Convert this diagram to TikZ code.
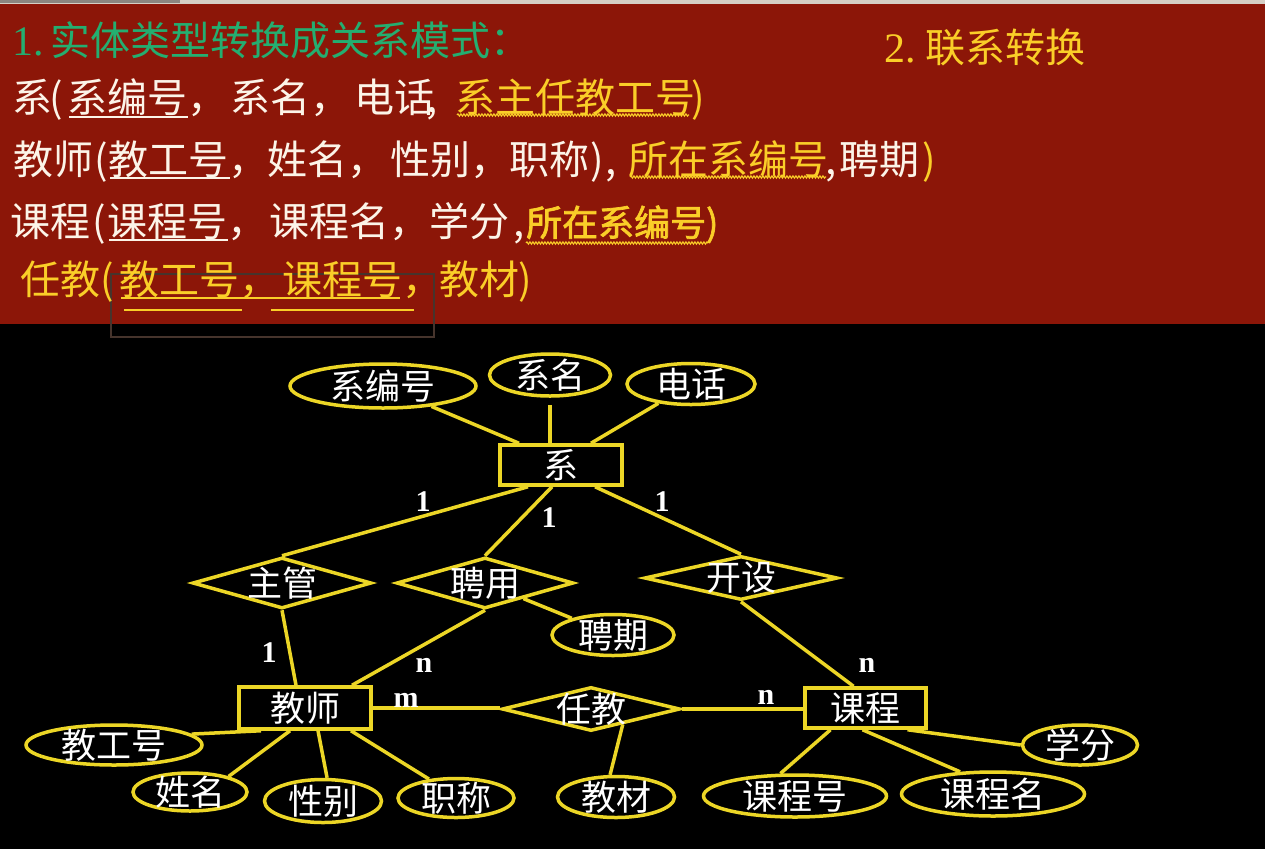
\documentclass[tikz,border=0pt]{standalone}
\usepackage{fontspec}
\setmainfont{Liberation Serif}
\newfontfamily\cjk{Noto Sans CJK SC}
\newfontfamily\cjkbold[FakeBold=2]{Noto Sans CJK SC}
\usetikzlibrary{shapes.geometric,decorations.pathmorphing,calc}

\definecolor{bandred}{RGB}{140,22,8}
\definecolor{erline}{RGB}{236,214,38}
\definecolor{cream}{RGB}{252,244,232}
\definecolor{gold}{RGB}{250,206,40}
\definecolor{mint}{RGB}{36,174,112}
\definecolor{selbox}{RGB}{70,52,44}

\tikzset{
  seg/.style={anchor=base west, inner sep=0, font=\cjk\fontsize{40}{40}\selectfont},
  wseg/.style={seg, text=cream},
  yseg/.style={seg, text=gold},
  shapelbl/.style={text=white, inner sep=0, font=\cjk\fontsize{35}{35}\selectfont},
  entity/.style={draw=erline, line width=3.5pt, rectangle, inner sep=0},
  attr/.style={draw=erline, line width=3.5pt, ellipse, inner sep=0},
  rel/.style={draw=erline, line width=3.5pt, diamond, inner sep=0},
  link/.style={erline, line width=3.5pt},
  card/.style={text=white, inner sep=0, font=\bfseries\fontsize{30}{30}\selectfont},
  uline/.style={line width=1.6pt},
  wavy/.style={gold, line width=1.1pt, decorate,
    decoration={snake, amplitude=1.1pt, segment length=3pt}},
}

\begin{document}
\begin{tikzpicture}[x=1pt,y=-1pt]
% canvas and title band
\fill[black] (0,0) rectangle (1265,849);
\useasboundingbox (0,0) rectangle (1265,849);
\fill[bandred] (0,4) rectangle (1265,324);
\fill[black!15!cream] (0,0) rectangle (1265,4);
\fill[black!45!cream] (0,0) rectangle (180,3);
\draw[selbox, line width=1.2pt] (111,274) rectangle (434,337);

% headings
\node[seg, text=mint, font=\fontsize{42}{42}\selectfont] (h1n) at (12,55) {1.};
\node[seg, text=mint] (h1) at (50,55) {实体类型转换成关系模式：};
\node[seg, text=gold, font=\fontsize{42}{42}\selectfont] (h2n) at (884,62) {2.};
\node[yseg] (h2) at (925,62) {联系转换};

% relation schema: 系
\node[wseg] (a1) at (12,112) {系};
\node[wseg] (a2) at (49,112) {(};
\node[wseg] (a3) at (67,112) {系编号，};
\node[wseg] (a4) at (230,112) {系名，};
\node[wseg] (a5) at (354,112) {电话};
\node[wseg] (a6) at (426,112) {,};
\node[yseg] (a7) at (455,112) {系主任教工号};
\node[yseg] (a8) at (691,112) {)};
\draw[cream, uline] (69,117) -- (188,117);
\draw[wavy] (457,115) -- (689,115);

% relation schema: 教师
\node[wseg] (b1) at (13,174) {教师};
\node[wseg] (b2) at (94,174) {(};
\node[wseg] (b3) at (108,174) {教工号，};
\node[wseg] (b4) at (267,174) {姓名，};
\node[wseg] (b5) at (390,174) {性别，};
\node[wseg] (b6) at (509,174) {职称};
\node[wseg] (b7) at (590,174) {)};
\node[wseg] (b8) at (605,174) {,};
\node[yseg] (b9) at (628,174) {所在系编号};
\node[wseg] (b10) at (825,174) {,};
\node[wseg] (b11) at (839,174) {聘期};
\node[yseg] (b12) at (922,174) {)};
\draw[cream, uline] (110,178) -- (230,178);
\draw[wavy] (630,177) -- (826,177);

% relation schema: 课程
\node[wseg] (c1) at (10,236) {课程};
\node[wseg] (c2) at (92,236) {(};
\node[wseg] (c3) at (107,236) {课程号，};
\node[wseg] (c4) at (269,236) {课程名，};
\node[wseg] (c5) at (429,236) {学分};
\node[wseg] (c6) at (513,236) {,};
\node[seg, text=gold, font=\cjkbold\fontsize{36}{36}\selectfont] (c7) at (526,236) {所在系编号)};
\draw[cream, uline] (109,240) -- (228,240);
\draw[wavy] (526,243) -- (708,243);

% relation schema: 任教
\node[yseg] (d1) at (20,294) {任教};
\node[yseg] (d2) at (100,294) {(};
\node[yseg] (d3) at (119,294) {教工号，};
\node[yseg] (d4) at (282,294) {课程号，};
\node[yseg] (d5) at (439,294) {教材};
\node[yseg] (d6) at (518,294) {)};
\draw[gold, line width=2pt] (121,298) -- (400,298);
\draw[gold, line width=2.6pt] (124,310) -- (242,310);
\draw[gold, line width=2.6pt] (271,310) -- (414,310);

% E-R diagram: entities
\node[entity, minimum width=122pt, minimum height=40pt, label={[shapelbl]center:系}] (xi) at (561,465) {};
\node[entity, minimum width=132pt, minimum height=42pt, label={[shapelbl]center:教师}] (js) at (305,708) {};
\node[entity, minimum width=121pt, minimum height=40pt, label={[shapelbl]center:课程}] (kc) at (865.5,708) {};

% relationships
\node[rel, minimum width=179pt, minimum height=51pt, label={[shapelbl]center:主管}] (zg) at (282,583) {};
\node[rel, minimum width=177pt, minimum height=51pt, label={[shapelbl]center:聘用}] (py) at (485,583) {};
\node[rel, minimum width=193pt, minimum height=44pt, label={[shapelbl]center:开设}] (ks) at (741,578) {};
\node[rel, minimum width=178pt, minimum height=44pt, label={[shapelbl]center:任教}] (rj) at (591,709) {};

% attributes
\node[attr, minimum width=186pt, minimum height=44pt, label={[shapelbl]center:系编号}] (bh) at (383,386) {};
\node[attr, minimum width=121pt, minimum height=42pt, label={[shapelbl]center:系名}] (xm) at (550,375) {};
\node[attr, minimum width=128pt, minimum height=41pt, label={[shapelbl]center:电话}] (dh) at (691,384) {};
\node[attr, minimum width=122pt, minimum height=41pt, label={[shapelbl]center:聘期}] (pq) at (613,635) {};
\node[attr, minimum width=176pt, minimum height=40pt, label={[shapelbl]center:教工号}] (jgh) at (114,745) {};
\node[attr, minimum width=114pt, minimum height=38pt, label={[shapelbl]center:姓名}] (xmg) at (190,792) {};
\node[attr, minimum width=117pt, minimum height=43pt, label={[shapelbl]center:性别}] (xb) at (323,801) {};
\node[attr, minimum width=116pt, minimum height=39pt, label={[shapelbl]center:职称}] (zc) at (456,798) {};
\node[attr, minimum width=117pt, minimum height=41pt, label={[shapelbl]center:教材}] (jc) at (616,797) {};
\node[attr, minimum width=183pt, minimum height=42pt, label={[shapelbl]center:课程号}] (kch) at (795,796) {};
\node[attr, minimum width=183pt, minimum height=44pt, label={[shapelbl]center:课程名}] (kcm) at (993,794) {};
\node[attr, minimum width=115pt, minimum height=40pt, label={[shapelbl]center:学分}] (xf) at (1080,745) {};

% connectors
\draw[link] (bh) -- ([xshift=-42pt]xi.north);
\draw[link] ([yshift=-7pt]xm.south) -- (xm.south |- xi.north);
\draw[link] (dh) -- ([xshift=30pt]xi.north);
\draw[link] ([xshift=-33pt]xi.south) -- (zg.north);
\draw[link] ([xshift=-9pt]xi.south) -- (py.north);
\draw[link] ([xshift=34pt]xi.south) -- (ks.north);
\draw[link] (zg.south) -- ([xshift=-9pt]js.north);
\draw[link] (py.south) -- ([xshift=47pt]js.north);
\draw[link] (py) -- (pq);
\draw[link] (ks.south) -- ([xshift=-12pt]kc.north);
\draw[link] (js.east) -- (js.east -| rj.west);
\draw[link] (rj.east) -- (rj.east -| kc.west);
\draw[link] ($(rj.south)!0.35!(rj.east)$) -- (jc.105);
\draw[link] ([xshift=-44pt]js.south) -- (jgh.8);
\draw[link] ([xshift=-15pt]js.south) -- (xmg.22);
\draw[link] ([xshift=13pt]js.south) -- (xb.80);
\draw[link] ([xshift=46pt]js.south) -- (zc.145);
\draw[link] ([xshift=-35pt]kc.south) -- (kch.123);
\draw[link] ([xshift=-3pt]kc.south) -- (kcm.146);
\draw[link] ([xshift=42pt]kc.south) -- (xf.west);

% cardinalities
\node[card] (m1) at (423,502) {1};
\node[card] (m2) at (549,518) {1};
\node[card] (m3) at (662,502) {1};
\node[card] (m4) at (269,653) {1};
\node[card] (m5) at (424,665) {n};
\node[card] (m6) at (406,700) {m};
\node[card] (m7) at (766,697) {n};
\node[card] (m8) at (867,665) {n};
\end{tikzpicture}
\end{document}
